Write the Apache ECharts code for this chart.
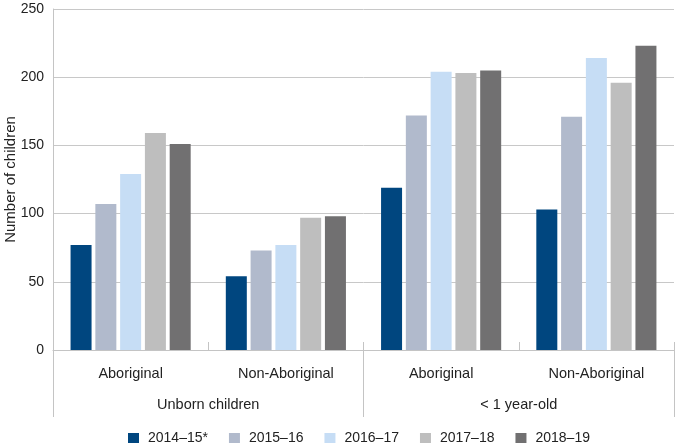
<!DOCTYPE html>
<html>
<head>
<meta charset="utf-8">
<script src="https://cdn.jsdelivr.net/npm/echarts@6/dist/echarts.min.js"></script>
<style>html,body{margin:0;padding:0;background:#fff}#c{width:675px;height:446px}</style>
</head>
<body>
<div id="c"></div>
<script>
const categories = ["Aboriginal", "Non-Aboriginal", "Aboriginal", "Non-Aboriginal"];
const groups = ["Unborn children", "< 1 year-old"];
const seriesNames = ["2014\u201315*", "2015\u201316", "2016\u201317", "2017\u201318", "2018\u201319"];
const v2014 = [77, 54, 119, 103];
const v2015 = [107, 73, 172, 171];
const v2016 = [129, 77, 204, 214];
const v2017 = [159, 97, 203, 196];
const v2018 = [151, 98, 205, 223];
const colors = ["#00467f", "#b1bacc", "#c6ddf5", "#bebebe", "#717071"];
const allValues = [v2014, v2015, v2016, v2017, v2018];
const font = "Liberation Sans, Arial, sans-serif";

const chart = echarts.init(document.getElementById('c'), null, {renderer: 'canvas'});
chart.setOption({
  animation: false,
  textStyle: {fontFamily: font},
  grid: {left: 53, right: 1, top: 9, bottom: 96, containLabel: false, outerBoundsMode: 'none'},
  legend: {
    bottom: 1, left: 128, padding: 0,
    icon: 'rect', itemWidth: 11, itemHeight: 10, itemGap: 21,
    textStyle: {fontFamily: font, fontSize: 14, color: '#222', padding: [0, 0, 0, 4]},
    data: seriesNames
  },
  xAxis: [
    {
      type: 'category', data: categories, position: 'bottom',
      axisLine: {show: true, lineStyle: {color: '#c4c4c4', width: 1}},
      axisTick: {show: true, inside: true, length: 8, lineStyle: {color: '#c4c4c4'}},
      axisLabel: {margin: 16, fontSize: 14.5, color: '#222', fontFamily: font}
    },
    {
      type: 'category', data: groups, position: 'bottom',
      axisLine: {show: false},
      axisTick: {show: true, length: 67, lineStyle: {color: '#c4c4c4'}},
      axisLabel: {margin: 47, fontSize: 14.5, color: '#222', fontFamily: font}
    }
  ],
  yAxis: {
    type: 'value', min: 0, max: 250, interval: 50,
    name: 'Number of children', nameLocation: 'middle', nameGap: 35, nameMoveOverlap: false,
    nameTextStyle: {fontSize: 15, color: '#222', fontFamily: font},
    axisLine: {show: true, lineStyle: {color: '#c4c4c4'}},
    axisTick: {show: false},
    axisLabel: {margin: 9, fontSize: 14, color: '#222', fontFamily: font},
    splitLine: {show: true, lineStyle: {color: '#c8c8c8', width: 1}}
  },
  series: allValues.map((vals, i) => ({
    name: seriesNames[i], type: 'bar', xAxisIndex: 0,
    data: vals, barWidth: 21, barGap: '18%',
    itemStyle: {color: colors[i]}
  }))
});
</script>
</body>
</html>
